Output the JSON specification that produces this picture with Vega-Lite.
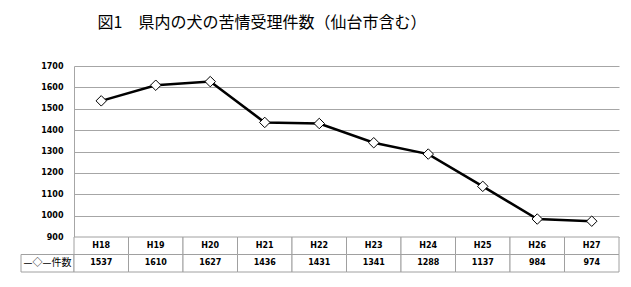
{
  "$schema": "https://vega.github.io/schema/vega-lite/v6.json",
  "padding": {"left": 20, "top": 15, "right": 13, "bottom": 10},
  "background": "white",
  "title": {
    "text": "図1　県内の犬の苦情受理件数（仙台市含む）",
    "font": "Noto Sans CJK JP",
    "fontSize": 16,
    "fontWeight": "normal",
    "color": "#000000",
    "anchor": "start",
    "dx": 77,
    "offset": 31
  },
  "datasets": {
    "d": [
      {"year": "H18", "count": 1537},
      {"year": "H19", "count": 1610},
      {"year": "H20", "count": 1627},
      {"year": "H21", "count": 1436},
      {"year": "H22", "count": 1431},
      {"year": "H23", "count": 1341},
      {"year": "H24", "count": 1288},
      {"year": "H25", "count": 1137},
      {"year": "H26", "count": 984},
      {"year": "H27", "count": 974}
    ]
  },
  "columns": 2,
  "spacing": 0,
  "bounds": "flush",
  "concat": [
    {
      "width": 53,
      "height": 171,
      "data": {"values": [{"t": ""}]},
      "mark": {"type": "text"},
      "encoding": {"text": {"field": "t"}}
    },
    {
      "width": 545,
      "height": 171,
      "data": {"name": "d"},
      "encoding": {
        "x": {
          "field": "year",
          "type": "ordinal",
          "scale": {"type": "point", "padding": 0.5},
          "axis": null
        },
        "y": {
          "field": "count",
          "type": "quantitative",
          "scale": {"domain": [900, 1700], "nice": false, "zero": false},
          "axis": {
            "values": [900, 1000, 1100, 1200, 1300, 1400, 1500, 1600, 1700],
            "format": "d",
            "title": null,
            "grid": true,
            "gridColor": "#a6a6a6",
            "gridWidth": 1,
            "domain": true,
            "domainColor": "#a6a6a6",
            "domainWidth": 1,
            "ticks": false,
            "labelFont": "DejaVu Sans",
            "labelFontWeight": "bold",
            "labelFontSize": 8,
            "labelColor": "#000000",
            "labelPadding": 11
          }
        }
      },
      "layer": [
        {"mark": {"type": "line", "color": "#000000", "strokeWidth": 2.5}},
        {
          "mark": {
            "type": "point",
            "shape": "diamond",
            "filled": true,
            "fill": "#ffffff",
            "stroke": "#000000",
            "strokeWidth": 1,
            "size": 110,
            "opacity": 1
          }
        }
      ]
    },
    {
      "width": 53,
      "height": 35,
      "data": {"values": [{"row": "v", "label": "—◇—件数"}]},
      "encoding": {
        "y": {
          "field": "row",
          "type": "nominal",
          "scale": {"domain": ["h", "v"], "paddingInner": 0, "paddingOuter": 0},
          "axis": null
        }
      },
      "layer": [
        {"mark": {"type": "rect", "fill": "#ffffff", "stroke": "#a0a0a0", "strokeWidth": 1}},
        {
          "mark": {"type": "text", "font": "Noto Sans CJK JP", "fontSize": 10, "color": "#000000"},
          "encoding": {"text": {"field": "label"}}
        }
      ]
    },
    {
      "width": 545,
      "height": 35,
      "data": {"name": "d"},
      "transform": [{"fold": ["year", "count"], "as": ["row", "val"]}],
      "encoding": {
        "x": {
          "field": "year",
          "type": "ordinal",
          "scale": {"type": "band", "paddingInner": 0, "paddingOuter": 0},
          "axis": null
        },
        "y": {
          "field": "row",
          "type": "nominal",
          "scale": {"domain": ["year", "count"], "paddingInner": 0, "paddingOuter": 0},
          "axis": null
        }
      },
      "layer": [
        {"mark": {"type": "rect", "fill": "#ffffff", "stroke": "#a0a0a0", "strokeWidth": 1}},
        {
          "mark": {"type": "text", "font": "DejaVu Sans", "fontWeight": "bold", "fontSize": 8, "color": "#000000"},
          "encoding": {"text": {"field": "val", "type": "nominal"}}
        }
      ]
    }
  ],
  "config": {
    "view": {"stroke": null},
    "concat": {"spacing": 0}
  }
}
